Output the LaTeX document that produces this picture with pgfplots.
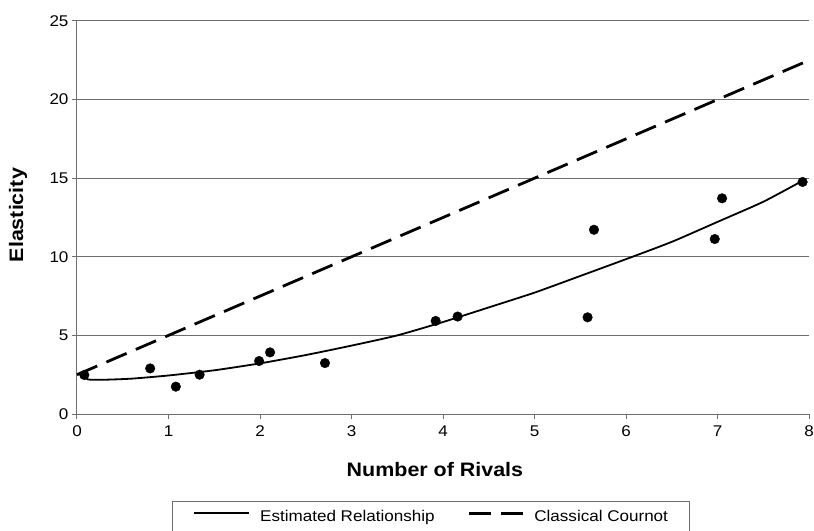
\documentclass[border=0pt]{standalone}
\usepackage{fontspec}
\setmainfont{Liberation Sans}[FakeStretch=1.1]
\usepackage{pgfplots}
\pgfplotsset{compat=1.18}
\definecolor{gridgray}{HTML}{6E6E6E}
\begin{document}
\begin{tikzpicture}
\begin{axis}[
  scale only axis, width=732bp, height=393bp,
  xmin=0, xmax=8, ymin=0, ymax=25,
  xtick={0,1,...,8}, ytick={0,5,...,25},
  axis x line*=bottom, axis y line*=left,
  axis line style={gridgray, line width=1bp},
  ymajorgrids, grid style={gridgray, line width=1bp},
  tick align=outside, major tick length=5bp,
  tick style={gridgray, line width=1bp},
  /pgf/number format/assume math mode=true,
  tick label style={font=\fontsize{15.5bp}{18bp}\selectfont},
  xticklabel style={yshift=-3bp},
  label style={font=\fontsize{19.5bp}{22bp}\selectfont\bfseries},
  xlabel={Number of Rivals}, ylabel={Elasticity},
  xlabel style={at={(axis description cs:0.489,-0.1425)}, anchor=center},
  ylabel style={at={(axis description cs:-0.0806,0.506)}, anchor=center},
  legend columns=2,
  legend style={at={(axis description cs:0.1298,-0.2214)}, anchor=north west,
    draw=gridgray, inner xsep=21bp, inner ysep=9bp,
    font=\fontsize{15.5bp}{18bp}\selectfont,
    nodes={inner sep=0pt},
    /tikz/every odd column/.append style={column sep=10bp},
    /tikz/every even column/.append style={column sep=33bp}},
  clip=false,
]
\addplot[black, line width=1.8bp, smooth, tension=0.35,
  legend image code/.code={\draw[black, line width=2bp] (0bp,0.33em) -- (55bp,0.33em);}]
 coordinates {
 (0.05,2.55) (0.12,2.2) (0.3,2.18) (0.6,2.25) (1.0,2.45) (1.5,2.78) (2.0,3.22)
 (2.5,3.75) (3.0,4.35) (3.5,5.0) (4.0,5.85) (4.5,6.78) (5.0,7.72) (5.5,8.78)
 (6.0,9.85) (6.5,10.95) (7.0,12.22) (7.5,13.5) (7.93,14.84)};
\addlegendentry{Estimated Relationship}
\addplot[black, line width=2.8bp, dash pattern=on 22bp off 10bp,
  legend image code/.code={\draw[black, line width=2.8bp, dash pattern=on 22bp off 10bp] (0bp,0.33em) -- (54bp,0.33em);}]
 coordinates {(0,2.5) (8,22.5)};
\addlegendentry{Classical Cournot\hspace{9bp}}
\addplot[only marks, mark=*, mark size=4.8bp, black, forget plot] coordinates {
 (0.08,2.48) (0.80,2.9) (1.08,1.74) (1.34,2.5) (1.99,3.37) (2.11,3.92) (2.71,3.24)
 (3.92,5.92) (4.16,6.2) (5.58,6.15) (5.65,11.72) (6.97,11.13) (7.05,13.72) (7.93,14.76)};
\end{axis}
\pgfresetboundingbox
\path[use as bounding box] (-77bp,-117bp) rectangle (737bp,414bp);
\end{tikzpicture}
\end{document}
